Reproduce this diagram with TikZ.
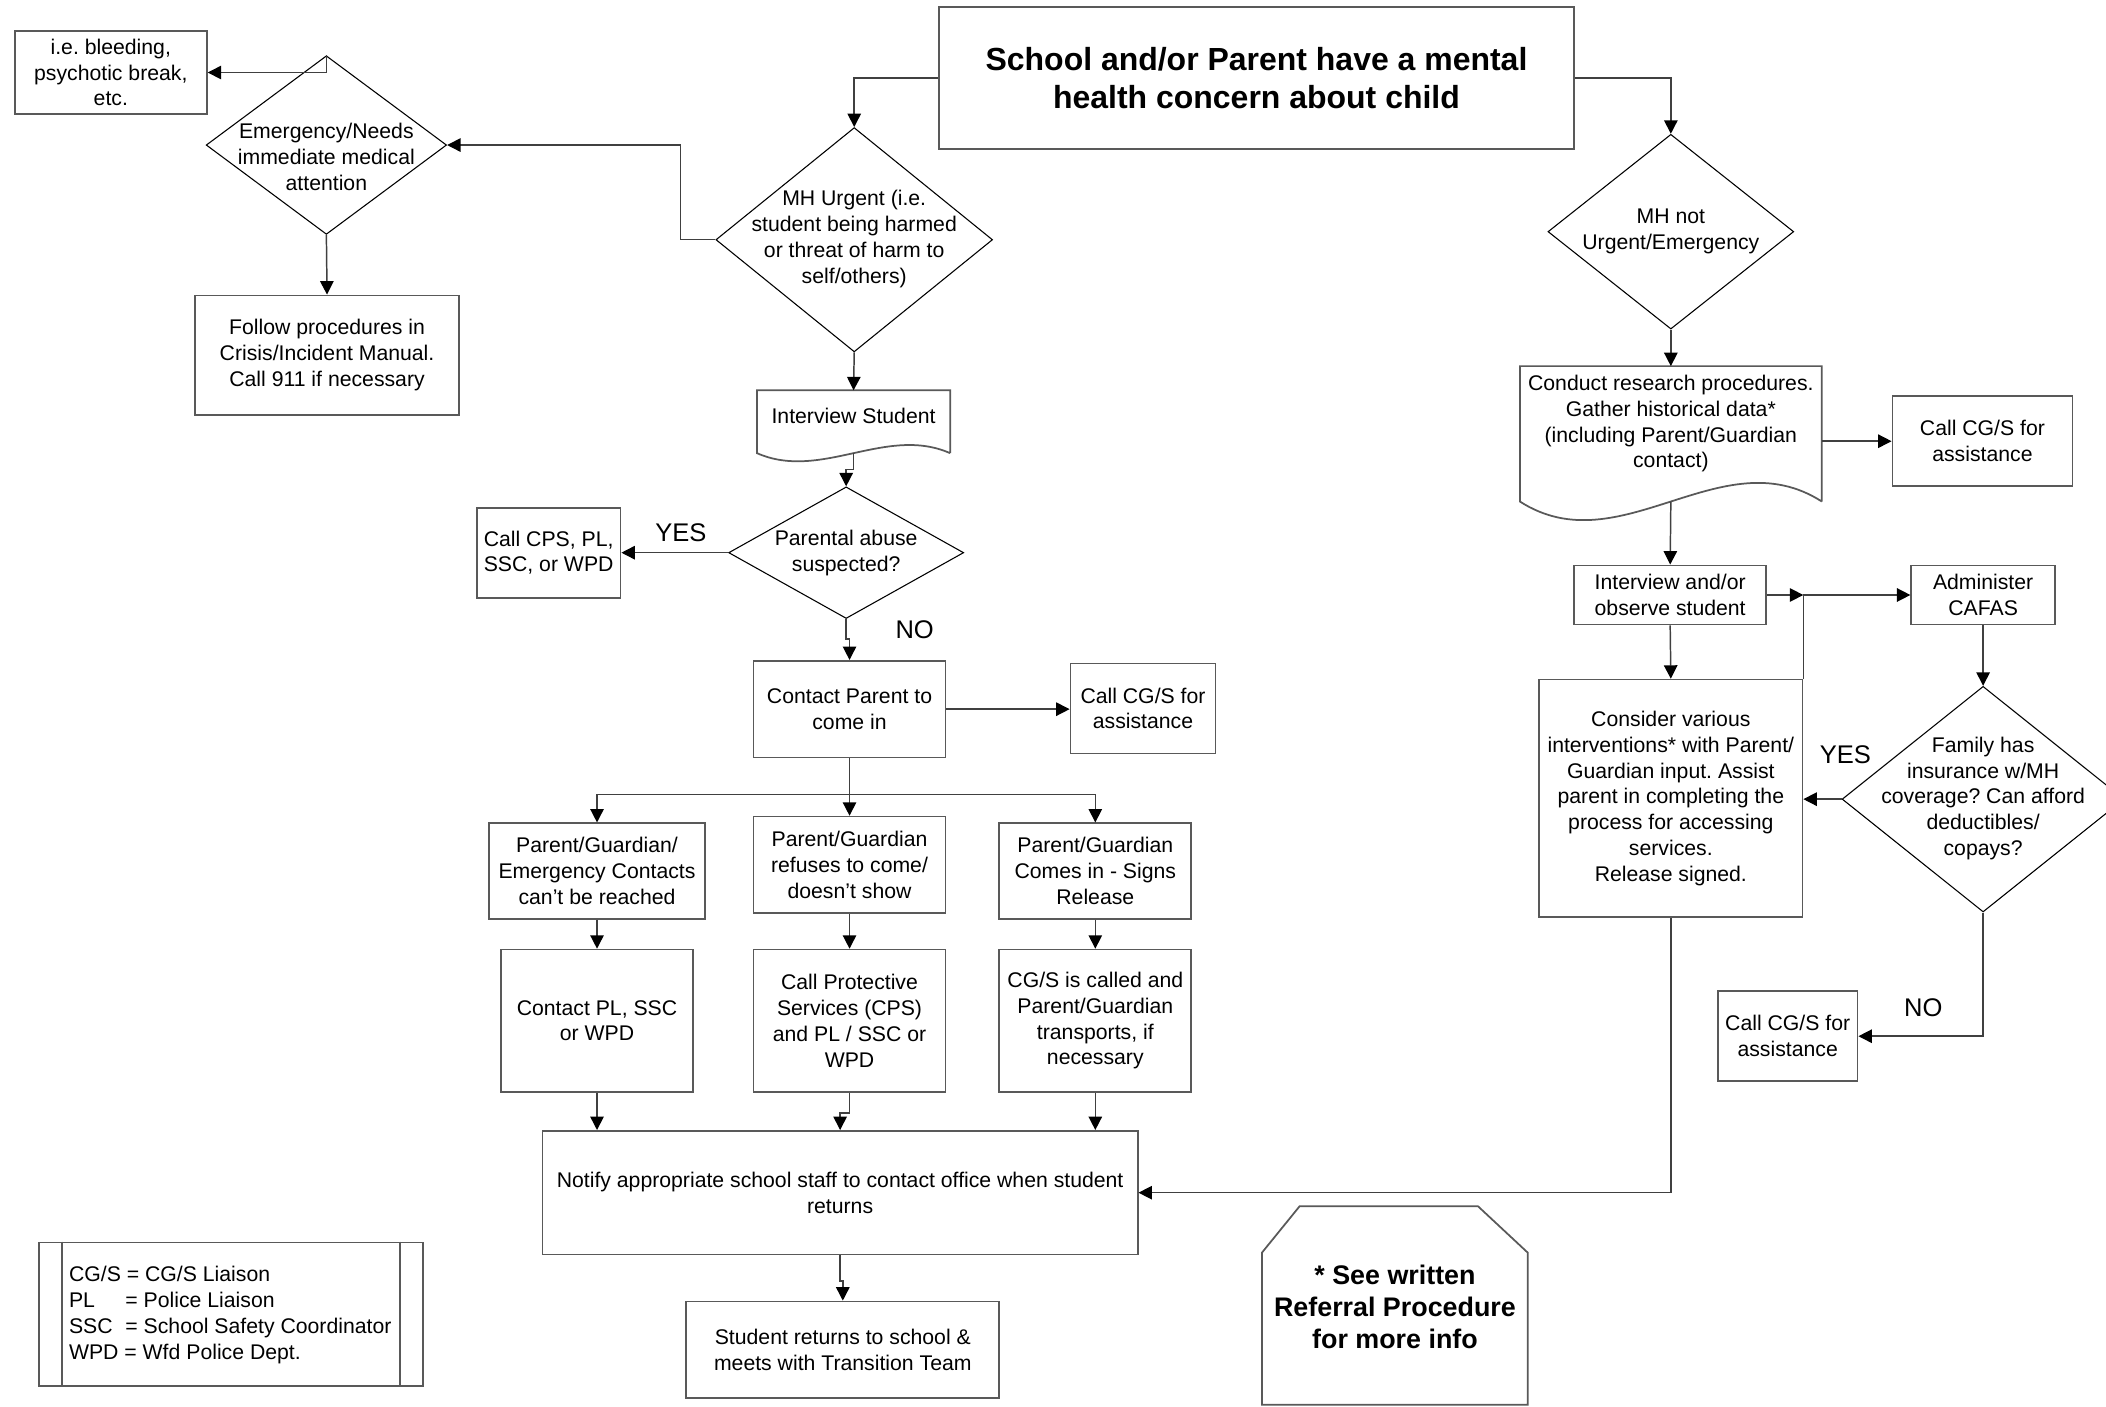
\documentclass[tikz,border=0pt]{standalone}
\usepackage{fontspec}
\setmainfont{Liberation Sans}
\usetikzlibrary{shapes.geometric,arrows.meta,calc}
\begin{document}
\frenchspacing
\begin{tikzpicture}[x=0.5pt,y=-0.5pt,
  base/.style={font=\fontsize{7.9}{9.6}\selectfont\frenchspacing, align=center, inner sep=0pt},
  box/.style={base, draw=black!65, line width=0.65pt, rectangle},
  boxline/.style={draw=black!65, line width=0.65pt},
  dia/.style={diamond, draw=black, line width=0.4pt, inner sep=0pt},
  arr/.style={draw=black!75, line width=0.55pt, -{Triangle[length=5pt,width=5pt,black]}},
  lbl/.style={font=\fontsize{9.5}{11}\selectfont, inner sep=0pt},
  bold/.style={font=\fontsize{10}{12}\selectfont\bfseries, align=center, inner sep=0pt}
]
\fill[white] (0,0) rectangle (1568,1047);
\useasboundingbox (0,0) rectangle (1568,1047);

% ---------- left / centre column ----------
\node[box, minimum width=71.5pt, minimum height=31pt] (bleed) at (82.5,54) {i.e. bleeding,\\psychotic break,\\etc.};
\node[dia, minimum width=89.5pt, minimum height=66.5pt] (emerg) at (243,108) {};
\node[base] (emergt) at (243,117) {Emergency/Needs\\immediate medical\\attention};
\node[box, minimum width=98.5pt, minimum height=44.5pt] (follow) at (243.5,264.5) {Follow procedures in\\Crisis/Incident Manual.\\Call 911 if necessary};

\node[box, minimum width=236.5pt, minimum height=53pt, font=\fontsize{11.9}{14}\selectfont\bfseries] (title) at (935.5,58) {School and/or Parent have a mental\\health concern about child};

\node[dia, minimum width=103pt, minimum height=83.5pt] (mhu) at (636,178.5) {};
\node[base] (mhut) at (636,178) {MH Urgent (i.e.\\student being harmed\\or threat of harm to\\self/others)};

\node[base, minimum width=71.5pt, minimum height=23pt] (is) at (635.5,314) {};
\draw[boxline] (is.south east) -- (is.north east) -- (is.north west) -- (is.south west)
  .. controls ($(is.south west)+(47.7,21)$) and ($(is.south east)+(-47.7,-21)$) .. (is.south east);
\node[base] (ist) at (635.5,310) {Interview Student};

\node[dia, minimum width=87.5pt, minimum height=49pt] (pa) at (630,411.5) {};
\node[base] (pat) at (630,411.5) {Parental abuse\\suspected?};
\node[box, minimum width=53.5pt, minimum height=33.5pt] (cps) at (408.5,411.5) {Call CPS, PL,\\SSC, or WPD};
\node[lbl] (yes1) at (507,397) {YES};
\node[lbl] (no1) at (681,469) {NO};

\node[box, minimum width=71.5pt, minimum height=36pt] (contact) at (632.5,528) {Contact Parent to\\come in};
\node[box, minimum width=54pt, minimum height=33.5pt] (ccga) at (851,527.5) {Call CG/S for\\assistance};

\node[box, minimum width=80.5pt, minimum height=35.5pt] (pga) at (444.5,648.5) {Parent/Guardian/\\Emergency Contacts\\can’t be reached};
\node[box, minimum width=71.5pt, minimum height=36pt] (pgb) at (632.5,644) {Parent/Guardian\\refuses to come/\\doesn’t show};
\node[box, minimum width=71.5pt, minimum height=35.5pt] (pgc) at (815.5,648.5) {Parent/Guardian\\Comes in - Signs\\Release};

\node[box, minimum width=71.5pt, minimum height=53pt] (acta) at (444.5,760) {Contact PL, SSC\\or WPD};
\node[box, minimum width=71.5pt, minimum height=53pt] (actb) at (632.5,760) {Call Protective\\Services (CPS)\\and PL / SSC or\\WPD};
\node[box, minimum width=71.5pt, minimum height=53pt] (actc) at (815.5,760) {CG/S is called and\\Parent/Guardian\\transports, if\\necessary};

\node[box, minimum width=221.5pt, minimum height=46pt] (notify) at (625.5,888) {Notify appropriate school staff to contact office when student\\returns};
\node[box, minimum width=116.5pt, minimum height=36pt] (student) at (627.5,1005) {Student returns to school \&\\meets with Transition Team};

% referral note
\node[base, minimum width=98.5pt, minimum height=73.5pt] (ref) at (1038.5,972) {};
\draw[boxline] ($(ref.north west)+(0,34.5)$) -- ($(ref.north west)+(28,0)$) -- ($(ref.north east)+(-37,0)$)
  -- ($(ref.north east)+(0,34.5)$) -- (ref.south east) -- (ref.south west) -- cycle;
\node[bold] (reft) at (1038.6,973) {* See written\\Referral Procedure\\for more info};

% legend
\node[box, minimum width=143pt, minimum height=53.5pt] (legend) at (172,978.5) {};
\draw[boxline] ($(legend.north west)+(18,0)$) -- ($(legend.south west)+(18,0)$);
\draw[boxline] ($(legend.north east)+(-18,0)$) -- ($(legend.south east)+(-18,0)$);
\node[base, align=left, anchor=west] (legendt) at (51,979) {CG/S = CG/S Liaison\\\makebox[21pt][l]{PL}= Police Liaison\\\makebox[21pt][l]{SSC}= School Safety Coordinator\\WPD = Wfd Police Dept.};

% ---------- right column ----------
\node[dia, minimum width=91.5pt, minimum height=72.5pt] (mhn) at (1244,172.5) {};
\node[base] (mhnt) at (1244,172) {MH not\\Urgent/Emergency};

\node[base, minimum width=112pt, minimum height=50pt] (conduct) at (1244,323) {};
\draw[boxline] (conduct.south east) -- (conduct.north east) -- (conduct.north west) -- (conduct.south west)
  .. controls ($(conduct.south west)+(74.7,48)$) and ($(conduct.south east)+(-74.7,-48)$) .. (conduct.south east);
\node[base] (conductt) at (1244,315.5) {Conduct research procedures.\\Gather historical data*\\(including Parent/Guardian\\contact)};
\node[box, minimum width=67pt, minimum height=33.5pt] (ccgb) at (1476,328.5) {Call CG/S for\\assistance};

\node[box, minimum width=71.5pt, minimum height=22pt] (iobs) at (1243.5,443) {Interview and/or\\observe student};
\node[box, minimum width=53.5pt, minimum height=22pt] (cafas) at (1476.5,443) {Administer\\CAFAS};
\node[box, minimum width=98pt, minimum height=88.5pt] (consider) at (1244,594.5) {Consider various\\interventions* with Parent/\\Guardian input. Assist\\parent in completing the\\process for accessing\\services.\\Release signed.};
\coordinate (jn) at (consider.north east |- iobs.east);

\node[dia, minimum width=105pt, minimum height=84pt] (family) at (1476.5,595) {};
\node[base] (familyt) at (1476.5,594.5) {Family has\\insurance w/MH\\coverage? Can afford\\deductibles/\\copays?};
\node[box, minimum width=52pt, minimum height=33.5pt] (ccgc) at (1331,771.5) {Call CG/S for\\assistance};
\node[lbl] (yes2) at (1374,562) {YES};
\node[lbl] (no2) at (1432,750) {NO};

% ---------- connectors ----------
\draw[arr] (emerg.north) |- (bleed.east);
\draw[arr] (emerg.south) -- (follow.north);
\draw[arr] (mhu.west) -- ++(-26,0) |- (emerg.east);
\draw[arr] (title.west) -| (mhu.north);
\draw[arr] (title.east) -| (mhn.north);
\draw[arr] (mhu.south) -- (is.north);
\draw[arr] (is.south) -- ++(0,12) -| (pa.north);
\draw[arr] (pa.west) -- (cps.east);
\draw[arr] (pa.south) -- ++(0,15) -| (contact.north);
\draw[arr] (contact.east) -- (contact.east -| ccga.west);
\draw[arr] (contact.south) -- (pgb.north);
\draw[arr] (contact.south) -- ++(0,27) -| (pga.north);
\draw[arr] (contact.south) -- ++(0,27) -| (pgc.north);
\draw[arr] (pga.south) -- (acta.north);
\draw[arr] (pgb.south) -- (actb.north);
\draw[arr] (pgc.south) -- (actc.north);
\draw[arr] (acta.south) -- (acta.south |- notify.north);
\draw[arr] (actb.south) -- ++(0,15) -| (notify.north);
\draw[arr] (actc.south) -- (actc.south |- notify.north);
\draw[arr] (notify.south) -- ++(0,19) -| (student.north);
\draw[arr] (consider.south) |- (notify.east);

\draw[arr] (mhn.south) -- (conduct.north);
\draw[arr] (ccgb.west -| conduct.east) -- (ccgb.west);
\draw[arr] (conduct.south) -- (iobs.north);
\draw[arr] (iobs.east) -- (jn);
\draw[arr] (consider.north east) |- (cafas.west);
\draw[arr] (iobs.south) -- (consider.north);
\draw[arr] (cafas.south) -- (family.north);
\draw[arr] (family.west) -- (family.west -| consider.east);
\draw[arr] (family.south) |- (ccgc.east);
\end{tikzpicture}
\end{document}
